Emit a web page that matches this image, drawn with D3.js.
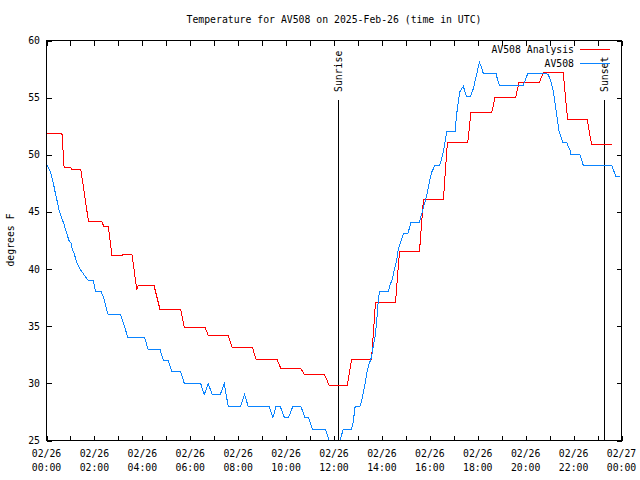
<!DOCTYPE html>
<html><head><meta charset="utf-8">
<script src="https://cdn.jsdelivr.net/npm/d3@7"></script>
<style>
body{margin:0;background:#fff;}
svg text{font-family:"DejaVu Sans Mono","Liberation Mono",monospace;font-size:9.8px;fill:#000;}
</style></head><body><svg id="c" width="640" height="480"></svg>
<script>
const title = "Temperature for AV508 on 2025-Feb-26 (time in UTC)";
const yLabel = "degrees F";
const seriesNames = ["AV508 Analysis", "AV508"];
const seriesColors = ["#ff0000", "#0a84ff"];

const analysisTimes = ["00:01","00:31","00:39","00:44","01:01","01:03","01:26","01:45","02:18","02:24","02:35","02:44","03:09","03:12","03:34","03:46","03:50","04:29","04:44","05:36","05:45","06:37","06:45","07:35","07:45","08:36","08:45","09:37","09:47","10:37","10:45","11:36","11:48","12:33","12:44","13:34","13:44","14:34","14:44","15:34","15:44","16:34","16:44","17:35","17:43","18:35","18:43","19:35","19:43","20:34","20:44","21:34","21:45","22:34","22:45","23:35"];
const analysisTemps = [51.9,51.9,51.8,48.9,48.9,48.7,48.7,44.2,44.2,43.7,43.7,41.2,41.2,41.3,41.3,38.2,38.6,38.6,36.5,36.5,34.9,34.9,34.2,34.2,33.1,33.1,32.1,32.1,31.3,31.3,30.8,30.8,29.8,29.8,32.1,32.1,37.1,37.1,41.5,41.5,46.1,46.1,51.1,51.1,53.7,53.7,55.0,55.0,56.3,56.3,57.2,57.2,53.1,53.1,50.9,50.9];

const obsTimes = ["00:01","00:06","00:11","00:15","00:19","00:23","00:27","00:31","00:36","00:40","00:44","00:48","00:52","00:56","01:01","01:05","01:09","01:13","01:17","01:21","01:26","01:34","01:42","01:45","01:57","02:03","02:17","02:24","02:32","02:35","03:06","03:14","03:24","04:06","04:14","04:44","04:53","05:05","05:14","05:36","05:45","06:26","06:35","06:45","06:55","07:15","07:25","07:35","08:06","08:16","08:25","09:17","09:27","09:35","09:45","09:56","10:06","10:17","10:37","10:47","10:56","11:06","11:38","11:58","12:08","12:23","12:44","12:48","12:53","13:05","13:09","13:13","13:18","13:22","13:26","13:30","13:34","13:38","13:43","13:47","13:51","13:54","14:16","14:20","14:25","14:29","14:33","14:37","14:41","14:47","14:54","15:05","15:13","15:34","15:44","15:52","15:56","16:00","16:05","16:09","16:13","16:25","16:30","16:34","16:38","16:42","17:03","17:07","17:11","17:15","17:20","17:24","17:28","17:32","17:42","17:49","17:53","17:59","18:04","18:10","18:14","18:46","18:50","18:54","19:54","20:01","20:05","20:53","20:57","21:03","21:08","21:12","21:16","21:20","21:24","21:28","21:33","21:43","21:47","21:51","21:53","22:16","22:24","23:35","23:46","23:56"];
const obsTemps = [49.1,48.8,48.4,47.8,47.2,46.5,45.9,45.2,44.7,44.3,43.9,43.4,43.0,42.5,42.3,41.7,41.4,40.9,40.5,40.2,39.9,39.5,39.1,39.0,39.0,38.0,38.0,37.4,36.3,36.0,36.0,35.1,34.0,34.0,33.0,33.0,32.0,32.0,31.0,31.0,30.0,30.0,29.0,30.0,29.0,29.0,30.0,28.0,28.0,29.0,28.0,28.0,27.0,28.0,28.0,27.0,27.0,28.0,28.0,27.0,27.0,26.0,26.0,24.0,24.0,26.0,26.0,26.6,28.0,28.0,28.4,29.1,30.0,30.9,31.5,31.9,32.3,33.2,34.1,35.5,37.3,38.0,38.0,38.6,39.0,39.6,40.2,40.8,41.7,42.4,43.1,43.1,44.1,44.1,45.4,46.4,47.1,47.8,48.5,48.8,49.1,49.1,49.7,50.3,51.1,52.0,52.0,53.5,54.6,55.5,55.8,56.0,55.5,55.1,55.1,55.8,56.4,57.3,58.1,57.6,57.1,57.1,56.5,56.1,56.1,56.7,57.1,57.1,57.0,56.4,55.8,54.9,53.9,52.9,52.0,51.6,51.1,51.1,50.7,50.4,50.0,50.0,49.1,49.1,48.1,48.1];

const yTicks = [25, 30, 35, 40, 45, 50, 55, 60];
const yDomain = [25, 60];
const xStartDay = "2025-02-26";
const xTickHours = d3.range(0, 25, 1);
const xLabelHours = [0, 2, 4, 6, 8, 10, 12, 14, 16, 18, 20, 22, 24];
const sunEventNames = ["Sunrise", "Sunset"];
const sunEventTimes = ["12:11", "23:15"];
const sunLineTopValue = 54.8;

const day0 = new Date(xStartDay + "T00:00:00Z");
function parseT(s) {
  const [h, m] = s.split(":").map(Number);
  return new Date(day0.getTime() + (h * 60 + m) * 60000);
}
const hourDate = h => new Date(day0.getTime() + h * 3600000);

const L = 46.5, R = 621.5, T = 40.5, B = 440.5, TICK = 5;
const x = d3.scaleUtc().domain([hourDate(0), hourDate(24)]).range([L, R]);
const y = d3.scaleLinear().domain(yDomain).range([B, T]);

const svg = d3.select("#c");
svg.append("rect").attr("width", 640).attr("height", 480).attr("fill", "#fff");

svg.append("defs").append("clipPath").attr("id", "clip")
  .append("rect").attr("x", L).attr("y", T).attr("width", R - L).attr("height", B - T);

// title
svg.append("text").attr("x", 334).attr("y", 19).attr("text-anchor", "middle")
  .attr("dominant-baseline", "central").text(title);

// y label
svg.append("text").attr("transform", "translate(10,240) rotate(-90)")
  .attr("text-anchor", "middle").attr("dominant-baseline", "central").text(yLabel);

// ticks via axes
const grid = svg.append("g").attr("shape-rendering", "crispEdges");
const xTickVals = xTickHours.map(hourDate);
const axB = d3.axisBottom(x).tickValues(xTickVals).tickSize(-TICK).tickFormat("");
const axT = d3.axisTop(x).tickValues(xTickVals).tickSize(-TICK).tickFormat("");
const axL = d3.axisLeft(y).tickValues(yTicks).tickSize(-TICK).tickFormat("");
const axR = d3.axisRight(y).tickValues(yTicks).tickSize(-TICK).tickFormat("");
[[axB, `translate(0,${B})`], [axT, `translate(0,${T})`], [axL, `translate(${L},0)`], [axR, `translate(${R},0)`]]
  .forEach(([ax, tr]) => {
    const g = grid.append("g").attr("transform", tr).call(ax);
    g.select(".domain").remove();
    g.selectAll("line").attr("stroke", "#000");
  });

// y tick labels
svg.append("g").selectAll("text").data(yTicks).join("text")
  .attr("x", 40).attr("y", d => y(d)).attr("text-anchor", "end")
  .attr("dominant-baseline", "central").text(d => d);

// x tick labels (two lines)
const fDate = d3.utcFormat("%m/%d"), fTime = d3.utcFormat("%H:%M");
const xl = svg.append("g").selectAll("g").data(xLabelHours.map(hourDate)).join("g")
  .attr("transform", d => `translate(${x(d)},0)`);
xl.append("text").attr("y", 453).attr("text-anchor", "middle").attr("dominant-baseline", "central").text(fDate);
xl.append("text").attr("y", 467).attr("text-anchor", "middle").attr("dominant-baseline", "central").text(fTime);

// sun events
sunEventNames.forEach((name, i) => {
  const xv = Math.round(x(parseT(sunEventTimes[i]))) + 0.5;
  svg.append("line").attr("x1", xv).attr("x2", xv).attr("y1", y(sunLineTopValue)).attr("y2", B)
    .attr("stroke", "#000").attr("shape-rendering", "crispEdges");
  svg.append("text").attr("transform", `translate(${xv},92) rotate(-90)`)
    .attr("text-anchor", "start").attr("dominant-baseline", "central").text(name);
});

// series
const line = d3.line().x(d => x(d[0])).y(d => y(d[1]));
const plot = svg.append("g").attr("clip-path", "url(#clip)");
const analysisData = analysisTimes.map((t, i) => [parseT(t), analysisTemps[i]]);
const obsData = obsTimes.map((t, i) => [parseT(t), obsTemps[i]]);
plot.append("path").datum(analysisData).attr("d", line).attr("fill", "none")
  .attr("stroke", seriesColors[0]).attr("stroke-width", 1).attr("shape-rendering", "crispEdges");
plot.append("path").datum(obsData).attr("d", line).attr("fill", "none")
  .attr("stroke", seriesColors[1]).attr("stroke-width", 1).attr("shape-rendering", "crispEdges");

// border
svg.append("rect").attr("x", L).attr("y", T).attr("width", R - L).attr("height", B - T)
  .attr("fill", "none").attr("stroke", "#000").attr("shape-rendering", "crispEdges");

// legend
const legY = [49, 63];
seriesNames.forEach((n, i) => {
  svg.append("text").attr("x", 574).attr("y", legY[i]).attr("text-anchor", "end")
    .attr("dominant-baseline", "central").text(n);
  svg.append("line").attr("x1", 580).attr("x2", 610).attr("y1", legY[i] + 0.5).attr("y2", legY[i] + 0.5)
    .attr("stroke", seriesColors[i]).attr("shape-rendering", "crispEdges");
});
</script></body></html>
